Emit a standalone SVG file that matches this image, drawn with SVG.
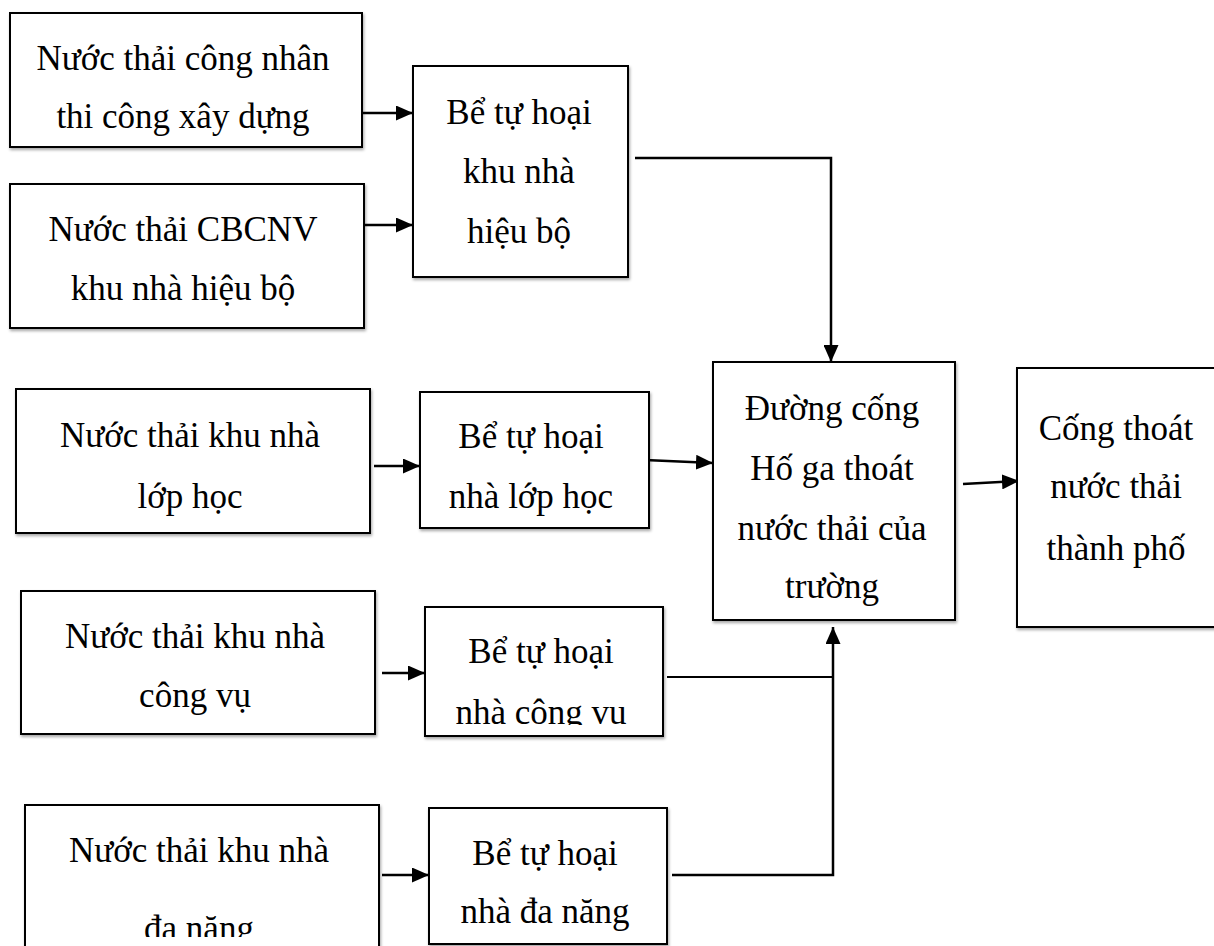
<svg xmlns="http://www.w3.org/2000/svg" width="1214" height="946" viewBox="0 0 1214 946">
  <style>
    .box { fill: #ffffff; stroke: #000000; stroke-width: 2; filter: url(#shadow); }
    .lbl { font-family: "Liberation Serif", "Times New Roman", serif; font-size: 35px; fill: #000000; text-anchor: middle; }
    .wire { fill: none; stroke: #000000; stroke-width: 2.5; }
    .thin { fill: none; stroke: #000000; stroke-width: 1.8; }
  </style>
  <defs>
    <filter id="shadow" x="-5%" y="-5%" width="112%" height="115%">
      <feDropShadow dx="1" dy="2" stdDeviation="1.5" flood-color="#000000" flood-opacity="0.35"/>
    </filter>
    <marker id="arrow" markerUnits="userSpaceOnUse" markerWidth="17" markerHeight="15" refX="17" refY="7.5" orient="auto">
      <path d="M0,0 L17,7.5 L0,15 z" fill="#000000"/>
    </marker>
    <clipPath id="clipCongVu"><rect x="425" y="607" width="238" height="118"/></clipPath>
    <clipPath id="clipDaNang"><rect x="25" y="805" width="354" height="132"/></clipPath>
  </defs>

  <rect width="1214" height="946" fill="#ffffff"/>

  <!-- connectors -->
  <g id="connectors">
    <line class="wire" x1="362" y1="113" x2="413" y2="113" marker-end="url(#arrow)"/>
    <line class="wire" x1="362" y1="225" x2="413" y2="225" marker-end="url(#arrow)"/>
    <polyline class="wire" points="635,158 831,158 831,362" marker-end="url(#arrow)"/>
    <line class="wire" x1="374" y1="466" x2="420" y2="466" marker-end="url(#arrow)"/>
    <line class="wire" x1="645" y1="460" x2="713" y2="463" marker-end="url(#arrow)"/>
    <line class="wire" x1="963" y1="484" x2="1019" y2="481" marker-end="url(#arrow)"/>
    <line class="wire" x1="382" y1="673" x2="425" y2="673" marker-end="url(#arrow)"/>
    <line class="wire" x1="382" y1="875" x2="429" y2="875" marker-end="url(#arrow)"/>
    <line class="thin" x1="667" y1="677" x2="833" y2="677"/>
    <polyline class="wire" points="672,875 833,875 833,627" marker-end="url(#arrow)"/>
  </g>

  <!-- sources -->
  <g id="nuoc-thai-cong-nhan">
    <rect class="box" x="10" y="13" width="352" height="134"/>
    <text class="lbl" x="183" y="70">Nước thải công nhân</text>
    <text class="lbl" x="183" y="128">thi công xây dựng</text>
  </g>
  <g id="nuoc-thai-cbcnv">
    <rect class="box" x="10" y="184" width="354" height="144"/>
    <text class="lbl" x="183" y="241">Nước thải CBCNV</text>
    <text class="lbl" x="183" y="300">khu nhà hiệu bộ</text>
  </g>
  <g id="nuoc-thai-lop-hoc">
    <rect class="box" x="16" y="389" width="354" height="144"/>
    <text class="lbl" x="190" y="447">Nước thải khu nhà</text>
    <text class="lbl" x="190" y="508">lớp học</text>
  </g>
  <g id="nuoc-thai-cong-vu">
    <rect class="box" x="21" y="591" width="354" height="143"/>
    <text class="lbl" x="195" y="648">Nước thải khu nhà</text>
    <text class="lbl" x="195" y="707">công vụ</text>
  </g>
  <g id="nuoc-thai-da-nang">
    <rect class="box" x="25" y="805" width="354" height="160"/>
    <text class="lbl" x="199" y="862">Nước thải khu nhà</text>
    <text class="lbl" x="199" y="940" clip-path="url(#clipDaNang)">đa năng</text>
  </g>

  <!-- septic tanks -->
  <g id="be-tu-hoai-hieu-bo">
    <rect class="box" x="413" y="66" width="215" height="211"/>
    <text class="lbl" x="519" y="124">Bể tự hoại</text>
    <text class="lbl" x="519" y="183">khu nhà</text>
    <text class="lbl" x="519" y="243">hiệu bộ</text>
  </g>
  <g id="be-tu-hoai-lop-hoc">
    <rect class="box" x="420" y="392" width="229" height="136"/>
    <text class="lbl" x="531" y="448">Bể tự hoại</text>
    <text class="lbl" x="531" y="508">nhà lớp học</text>
  </g>
  <g id="be-tu-hoai-cong-vu">
    <rect class="box" x="425" y="607" width="238" height="129"/>
    <text class="lbl" x="541" y="663">Bể tự hoại</text>
    <text class="lbl" x="541" y="724" clip-path="url(#clipCongVu)">nhà công vụ</text>
  </g>
  <g id="be-tu-hoai-da-nang">
    <rect class="box" x="429" y="808" width="238" height="136"/>
    <text class="lbl" x="545" y="865">Bể tự hoại</text>
    <text class="lbl" x="545" y="923">nhà đa năng</text>
  </g>

  <!-- collectors -->
  <g id="duong-cong-truong">
    <rect class="box" x="713" y="362" width="242" height="258"/>
    <text class="lbl" x="832" y="420">Đường cống</text>
    <text class="lbl" x="832" y="480">Hố ga thoát</text>
    <text class="lbl" x="832" y="540">nước thải của</text>
    <text class="lbl" x="832" y="598">trường</text>
  </g>
  <g id="cong-thoat-thanh-pho">
    <rect class="box" x="1017" y="368" width="210" height="259"/>
    <text class="lbl" x="1116" y="440">Cống thoát</text>
    <text class="lbl" x="1116" y="498">nước thải</text>
    <text class="lbl" x="1116" y="560">thành phố</text>
  </g>
</svg>
